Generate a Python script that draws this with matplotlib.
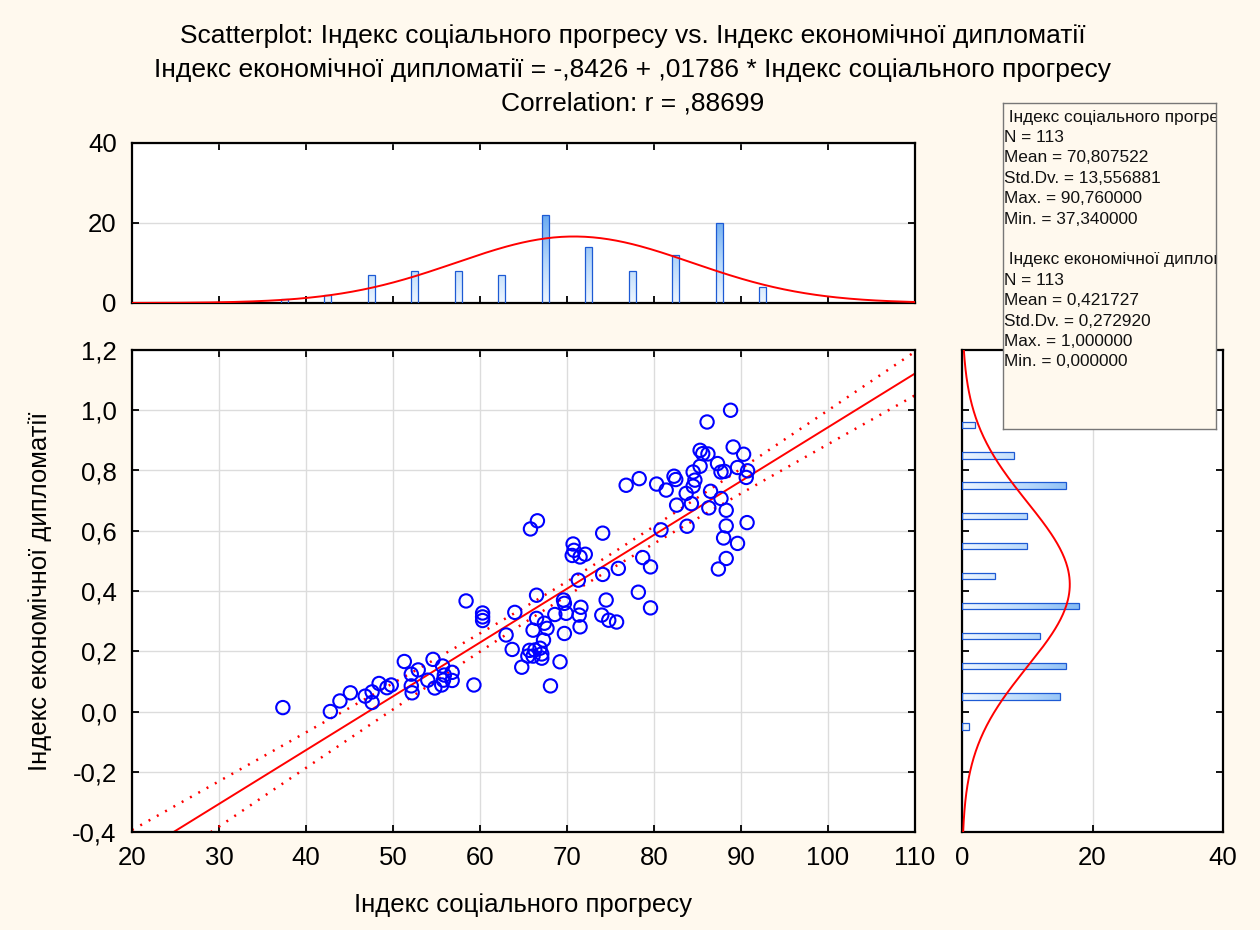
import numpy as np
import matplotlib
matplotlib.use("Agg")
import matplotlib.pyplot as plt
from matplotlib.colors import LinearSegmentedColormap
from matplotlib.patches import PathPatch
from matplotlib.path import Path
from matplotlib.ticker import FuncFormatter, MultipleLocator

plt.rcParams['font.family'] = ['Liberation Sans', 'DejaVu Sans']

# Індекс соціального прогресу (x) and Індекс економічної дипломатії (y), one pair per country
spi = [37.34, 42.8, 43.9, 45.1, 46.8, 47.6, 47.6, 48.4, 49.3, 49.8,
       51.3, 52.1, 52.9, 52.1, 52.2, 54.6, 54.0, 54.8, 55.7, 55.9,
       56.8, 55.8, 56.8, 55.6, 59.3, 58.4,
       60.3, 60.3, 60.3, 64.0, 63.0, 63.7, 64.8,
       65.8, 66.6, 66.5, 69.6, 69.7, 68.6, 69.9, 66.5, 67.4, 67.7,
       66.1, 69.7, 67.3, 65.7, 66.3, 66.9, 65.5, 66.1, 67.1, 67.1,
       69.2, 68.1,
       70.7, 70.8, 70.6, 71.5, 72.1, 71.3, 74.1, 74.1, 71.6, 74.5,
       74.0, 74.8, 71.4, 71.5,
       75.9, 75.7, 78.7, 79.6, 78.2, 79.6, 78.3, 76.8,
       80.8, 82.6, 84.3, 83.8, 80.3, 81.4, 82.3, 82.5, 84.7, 84.5,
       83.7, 84.5,
       85.3, 85.6, 86.2, 86.1, 88.8, 89.1, 87.3, 85.3, 87.7, 88.1,
       89.6, 86.5, 87.7, 86.3, 88.3, 88.3, 88.0, 89.6, 88.3, 87.4,
       90.3, 90.76, 90.6, 90.7]
edi = [0.013, 0.000, 0.035, 0.062, 0.051, 0.065, 0.030, 0.093, 0.079, 0.088,
       0.166, 0.124, 0.138, 0.085, 0.062, 0.173, 0.104, 0.078, 0.151, 0.121,
       0.130, 0.104, 0.103, 0.088, 0.088, 0.367,
       0.327, 0.314, 0.302, 0.329, 0.254, 0.206, 0.147,
       0.606, 0.633, 0.386, 0.370, 0.359, 0.322, 0.326, 0.309, 0.293, 0.276,
       0.270, 0.259, 0.237, 0.203, 0.204, 0.210, 0.184, 0.184, 0.191, 0.177,
       0.165, 0.085,
       0.556, 0.535, 0.518, 0.513, 0.522, 0.436, 0.455, 0.592, 0.346, 0.370,
       0.320, 0.303, 0.320, 0.281,
       0.475, 0.297, 0.511, 0.480, 0.396, 0.344, 0.773, 0.751,
       0.603, 0.685, 0.690, 0.615, 0.755, 0.735, 0.781, 0.770, 0.768, 0.748,
       0.724, 0.795,
       0.867, 0.856, 0.855, 0.961, 1.000, 0.878, 0.823, 0.814, 0.795, 0.797,
       0.810, 0.731, 0.707, 0.676, 0.668, 0.616, 0.576, 0.558, 0.508, 0.473,
       0.854, 0.799, 0.777, 0.627]

# histogram counts
spi_bins = [37.5, 42.5, 47.5, 52.5, 57.5, 62.5, 67.5, 72.5, 77.5, 82.5, 87.5, 92.5]
spi_counts = [1, 2, 7, 8, 8, 7, 22, 14, 8, 12, 20, 4]
edi_bins = [-0.05, 0.05, 0.15, 0.25, 0.35, 0.45, 0.55, 0.65, 0.75, 0.85, 0.95]
edi_counts = [1, 15, 16, 12, 18, 5, 10, 10, 16, 8, 2]

# descriptive statistics and regression
n_obs = 113
spi_mean, spi_sd, spi_max, spi_min = 70.807522, 13.556881, 90.76, 37.34
edi_mean, edi_sd, edi_max, edi_min = 0.421727, 0.272920, 1.0, 0.0
intercept, slope, r = -0.8426, 0.01786, 0.88699
t_crit = 1.9816

W, H = 1260, 930
BG = '#fff9ee'
RED = '#ff0000'
FS = 18.5


def px_rect(x0, y0, x1, y1):
    # pixel box (top-left origin) -> figure fraction rect
    return [x0 / W, 1 - y1 / H, (x1 - x0) / W, (y1 - y0) / H]


def comma(v, digits):
    return f"{v:.{digits}f}".replace('.', ',')


def stat_short(v, digits):
    s = f"{v:.{digits}f}"
    s = s.replace('0.', '.', 1) if abs(v) < 1 else s
    return s.replace('.', ',')


def normal(x, mu, sd):
    return np.exp(-0.5 * ((x - mu) / sd) ** 2) / (sd * np.sqrt(2 * np.pi))


def style_axes(ax):
    for sp in ax.spines.values():
        sp.set_linewidth(1.6)
        sp.set_color('black')
    ax.tick_params(direction='in', length=5, width=1.3, top=True, right=True,
                   labelsize=FS)
    ax.tick_params(axis='x', pad=10)
    ax.tick_params(axis='y', pad=11)


bar_cmap = LinearSegmentedColormap.from_list(
    'bars', [(0, '#eef6ff'), (0.25, '#b8d9fb'), (0.6, '#5ca2ef'), (1, '#3b86e4')])


def gradient_bars(ax, rects, vertical, extent):
    paths = [Path([(x0, y0), (x0 + w, y0), (x0 + w, y0 + h), (x0, y0 + h), (x0, y0)],
                  closed=True) for x0, y0, w, h in rects]
    compound = Path.make_compound_path(*paths)
    patch = PathPatch(compound, transform=ax.transData, facecolor='none',
                      edgecolor='#1d5ad4', lw=0.9, zorder=3)
    ax.add_patch(patch)
    grad = np.linspace(0, 1, 256)
    grad = grad.reshape(-1, 1) if vertical else grad.reshape(1, -1)
    im = ax.imshow(grad, extent=extent, origin='lower', aspect='auto',
                   cmap=bar_cmap, vmin=0, vmax=1, zorder=2)
    im.set_clip_path(patch)


fig = plt.figure(figsize=(W / 100, H / 100), dpi=100, facecolor=BG)

# main scatterplot
ax = fig.add_axes(px_rect(132, 350, 915, 832))
ax.set_facecolor('white')
ax.set_xlim(20, 110)
ax.set_ylim(-0.4, 1.2)
ax.xaxis.set_major_locator(MultipleLocator(10))
ax.yaxis.set_major_locator(MultipleLocator(0.2))
ax.yaxis.set_major_formatter(FuncFormatter(lambda v, p: comma(v, 1)
                                           if abs(v) > 1e-9 else '0,0'))
ax.grid(True, color='#dcdcdc', lw=1)
ax.set_axisbelow(True)
style_axes(ax)

xs = np.linspace(20, 110, 300)
fit = intercept + slope * xs
s_res = edi_sd * np.sqrt((1 - r ** 2) * (n_obs - 1) / (n_obs - 2))
sxx = (n_obs - 1) * spi_sd ** 2
band = t_crit * s_res * np.sqrt(1 / n_obs + (xs - spi_mean) ** 2 / sxx)
ax.plot(xs, fit, color=RED, lw=1.4, zorder=2)
ax.plot(xs, fit + band, color=RED, lw=1.8, ls=(0, (0.8, 3.0)), zorder=2)
ax.plot(xs, fit - band, color=RED, lw=1.8, ls=(0, (0.8, 3.0)), zorder=2)
ax.scatter(spi, edi, s=92, facecolors='none', edgecolors='#0000ff',
           linewidths=1.5, zorder=4)

# histogram of x above
axt = fig.add_axes(px_rect(132, 143, 915, 303))
axt.set_facecolor('white')
axt.set_xlim(20, 110)
axt.set_ylim(0, 40)
axt.xaxis.set_major_locator(MultipleLocator(10))
axt.yaxis.set_major_locator(MultipleLocator(20))
axt.set_xticklabels([])
axt.grid(True, axis='y', color='#dcdcdc', lw=1)
axt.set_axisbelow(True)
style_axes(axt)
bw = 0.8
gradient_bars(axt, [(c - bw / 2, 0, bw, n) for c, n in zip(spi_bins, spi_counts)],
              True, [20, 110, 0, 40])
axt.set_xlim(20, 110)
axt.set_ylim(0, 40)
axt.plot(xs, n_obs * 5 * normal(xs, spi_mean, spi_sd), color=RED, lw=1.4, zorder=4)

# histogram of y to the right
axr = fig.add_axes(px_rect(962, 350, 1223, 832))
axr.set_facecolor('white')
axr.set_xlim(0, 40)
axr.set_ylim(-0.4, 1.2)
axr.xaxis.set_major_locator(MultipleLocator(20))
axr.yaxis.set_major_locator(MultipleLocator(0.2))
axr.set_yticklabels([])
axr.grid(True, axis='x', color='#dcdcdc', lw=1)
axr.set_axisbelow(True)
style_axes(axr)
bh = 0.021
gradient_bars(axr, [(0, c - bh / 2, n, bh) for c, n in zip(edi_bins, edi_counts)],
              False, [0, 40, -0.4, 1.2])
axr.set_xlim(0, 40)
axr.set_ylim(-0.4, 1.2)
ys = np.linspace(-0.4, 1.2, 300)
axr.plot(n_obs * 0.1 * normal(ys, edi_mean, edi_sd), ys, color=RED, lw=1.4, zorder=4)

# summary box
axb = fig.add_axes(px_rect(1003, 103, 1216, 429))
axb.set_facecolor(BG)
axb.set_xticks([])
axb.set_yticks([])
for sp in axb.spines.values():
    sp.set_color('#777777')
    sp.set_linewidth(1)
box_lines = [
    ' Індекс соціального прогресу',
    f'N = {n_obs}',
    f'Mean = {comma(spi_mean, 6)}',
    f'Std.Dv. = {comma(spi_sd, 6)}',
    f'Max. = {comma(spi_max, 6)}',
    f'Min. = {comma(spi_min, 6)}',
    '',
    ' Індекс економічної дипломатії',
    f'N = {n_obs}',
    f'Mean = {comma(edi_mean, 6)}',
    f'Std.Dv. = {comma(edi_sd, 6)}',
    f'Max. = {comma(edi_max, 6)}',
    f'Min. = {comma(edi_min, 6)}',
]
for i, line in enumerate(box_lines):
    ypx = 117 + 20.4 * i
    axb.text(1.5 / 213, (429 - ypx) / 326, line, transform=axb.transAxes,
             fontsize=12.4, va='center', ha='left', color='#111111', clip_on=True)

# titles and axis labels
title_lines = [
    'Scatterplot: Індекс соціального прогресу vs. Індекс економічної дипломатії',
    f'Індекс економічної дипломатії = {stat_short(intercept, 4)} + '
    f'{stat_short(slope, 5)} * Індекс соціального прогресу',
    f'Correlation: r = {stat_short(r, 5)}',
]
for line, ypx in zip(title_lines, [36, 70, 103]):
    fig.text(633 / W, 1 - ypx / H, line, ha='center', va='center', fontsize=19)

fig.text(523 / W, 1 - 905 / H, 'Індекс соціального прогресу',
         ha='center', va='center', fontsize=FS)
fig.text(40 / W, 1 - 591 / H, 'Індекс економічної дипломатії',
         ha='center', va='center', fontsize=FS, rotation=90)

fig.savefig('out.png', dpi=100, facecolor=BG)
